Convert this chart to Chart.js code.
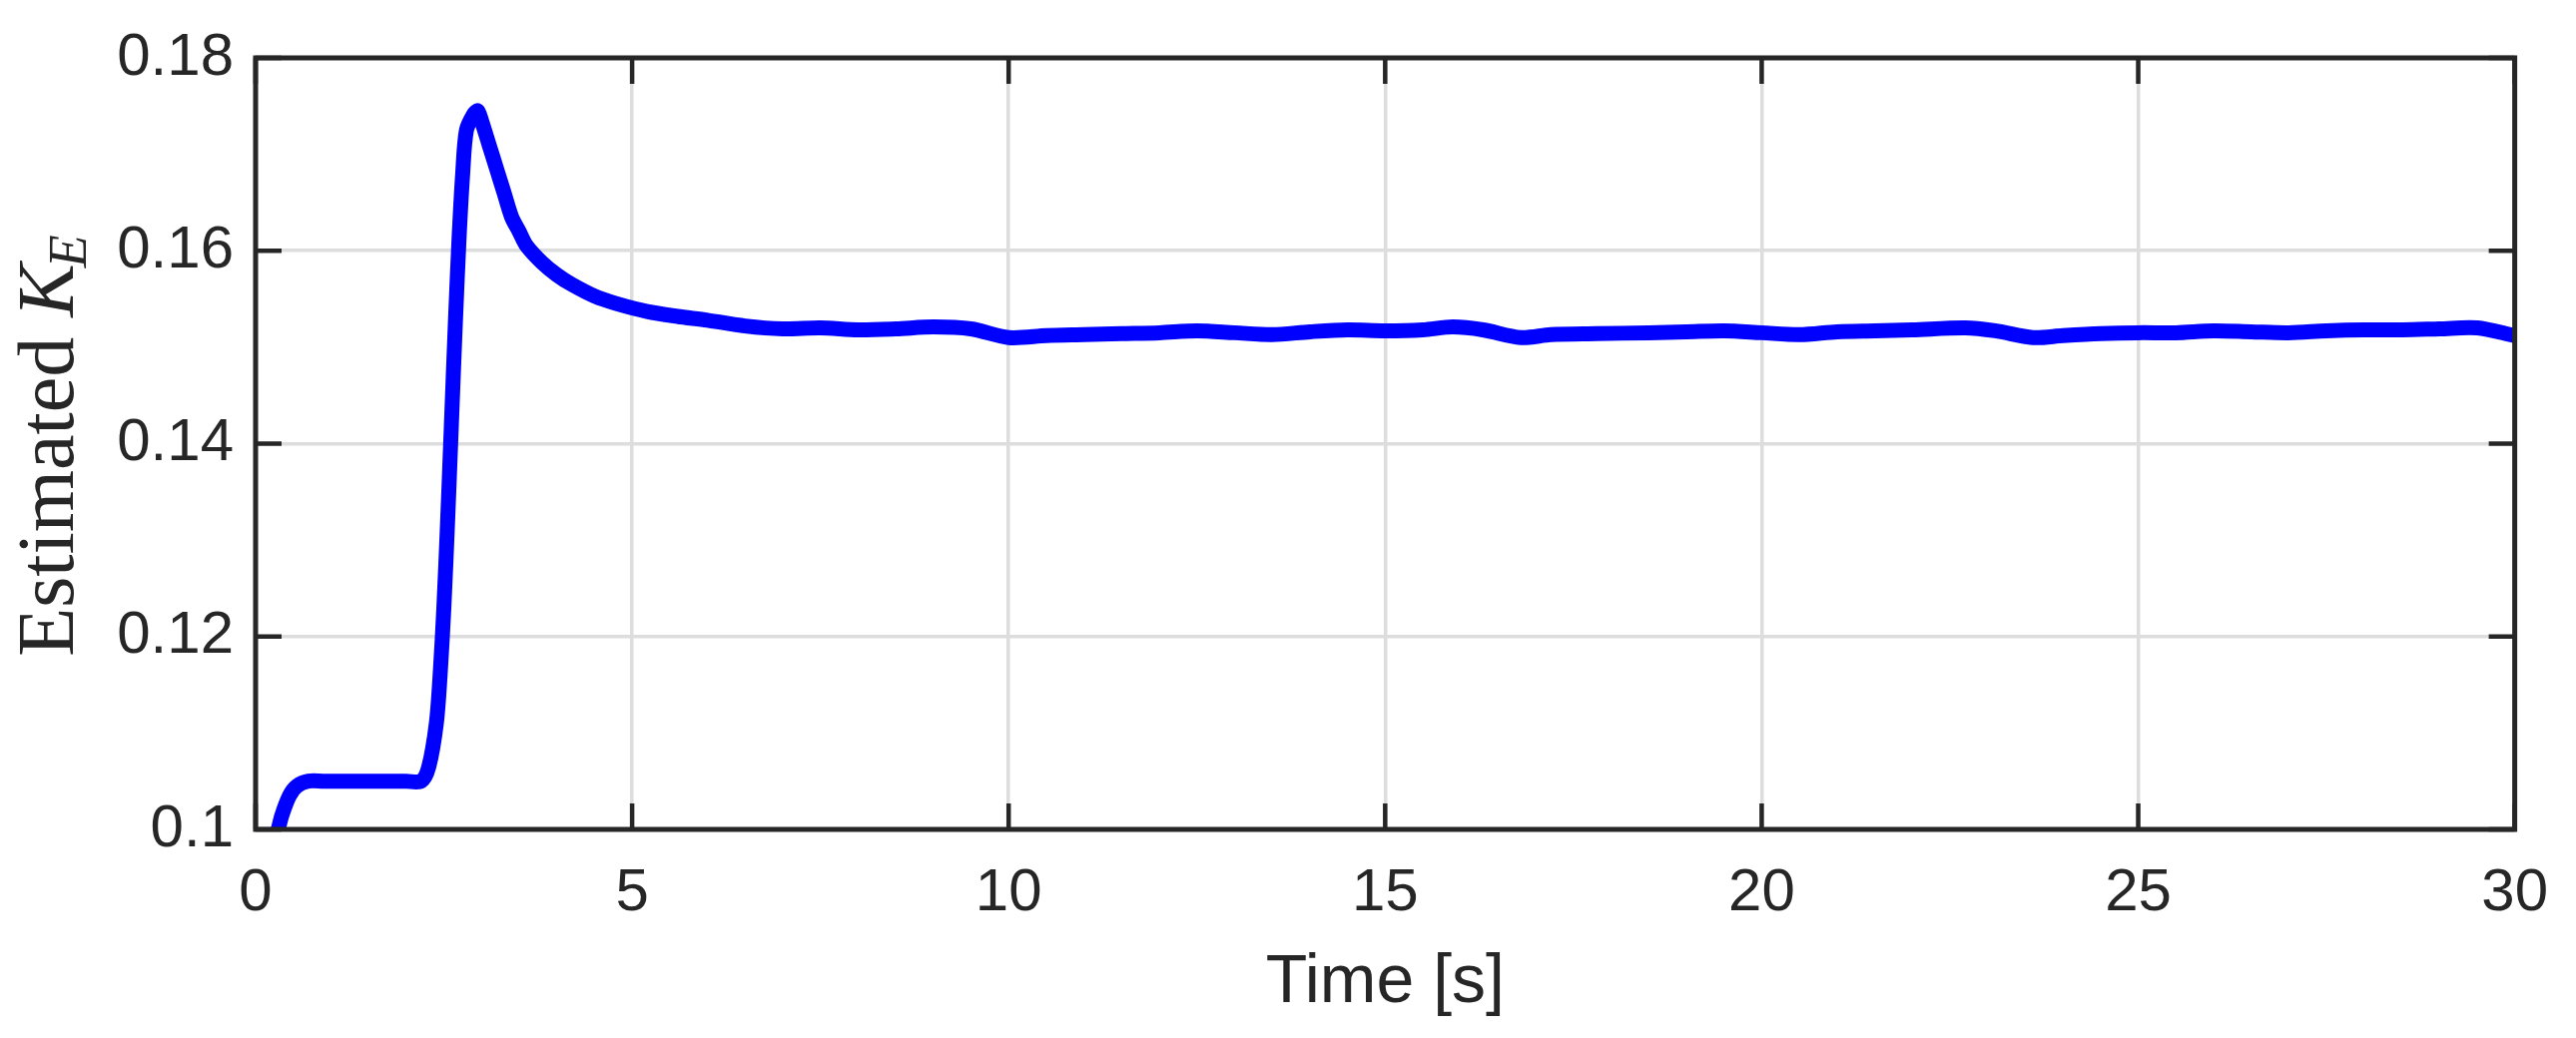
<html>
<head>
<script src="https://cdn.jsdelivr.net/npm/chart.js"></script>
<style>
  body { margin: 0; background: #fff; }
  #wrap { width: 2580px; height: 1040px; }
</style>
</head>
<body>
<div id="wrap"><canvas id="c"></canvas></div>
<script>
const timeS = [0.3, 0.35, 0.45, 0.55, 0.7, 0.9, 1.2, 1.6, 2.0, 2.2, 2.3, 2.4, 2.45, 2.5, 2.55, 2.6, 2.65, 2.7, 2.75, 2.8, 2.9, 2.95, 3.0, 3.1, 3.2, 3.3, 3.4, 3.5, 3.6, 3.8, 4.0, 4.2, 4.5, 4.8, 5.2, 5.6, 6.0, 6.5, 7.0, 7.5, 8.0, 8.5, 9.0, 9.5, 10.0, 10.5, 11.0, 11.5, 12.0, 12.5, 13.0, 13.5, 14.0, 14.5, 15.0, 15.5, 15.9, 16.3, 16.8, 17.2, 17.8, 18.5, 19.0, 19.5, 20.0, 20.5, 21.0, 21.5, 22.0, 22.7, 23.1, 23.6, 24.0, 24.5, 25.0, 25.5, 26.0, 26.5, 27.0, 27.5, 28.0, 28.5, 29.0, 29.5, 30.0];
const estKE = [0.1, 0.1015, 0.1035, 0.1045, 0.105, 0.105, 0.105, 0.105, 0.105, 0.105, 0.1065, 0.111, 0.116, 0.123, 0.132, 0.142, 0.152, 0.161, 0.168, 0.1725, 0.1742, 0.1745, 0.1735, 0.171, 0.1685, 0.166, 0.1635, 0.162, 0.1605, 0.1588, 0.1575, 0.1565, 0.1553, 0.1545, 0.1537, 0.1532, 0.1528, 0.1522, 0.1519, 0.152, 0.1518, 0.1519, 0.1521, 0.1519, 0.151, 0.1512, 0.1513, 0.1514, 0.1515, 0.1517, 0.1515, 0.1513, 0.1516, 0.1518, 0.1517, 0.1518, 0.1521, 0.1518, 0.151, 0.1513, 0.1514, 0.1515, 0.1516, 0.1517, 0.1515, 0.1513, 0.1516, 0.1517, 0.1518, 0.152, 0.1517, 0.151, 0.1512, 0.1514, 0.1515, 0.1515, 0.1517, 0.1516, 0.1515, 0.1517, 0.1518, 0.1518, 0.1519, 0.152, 0.1512];
const xTicks = [0, 5, 10, 15, 20, 25, 30];
const yTicks = [0.1, 0.12, 0.14, 0.16, 0.18];

const tickFont = { family: 'Liberation Sans, Arial, sans-serif', size: 60 };

// box, inner ticks and axis titles, MATLAB style
const frame = {
  id: 'frame',
  afterDraw(chart) {
    const { ctx, chartArea: a, scales } = chart;
    ctx.save();
    ctx.strokeStyle = '#262626';
    ctx.lineWidth = 5;
    ctx.strokeRect(a.left, a.top, a.right - a.left, a.bottom - a.top);
    ctx.lineWidth = 4.5;
    const L = 26;
    xTicks.forEach(v => {
      const x = scales.x.getPixelForValue(v);
      ctx.beginPath();
      ctx.moveTo(x, a.bottom); ctx.lineTo(x, a.bottom - L);
      ctx.moveTo(x, a.top); ctx.lineTo(x, a.top + L);
      ctx.stroke();
    });
    yTicks.forEach(v => {
      const y = scales.y.getPixelForValue(v);
      ctx.beginPath();
      ctx.moveTo(a.left, y); ctx.lineTo(a.left + L, y);
      ctx.moveTo(a.right, y); ctx.lineTo(a.right - L, y);
      ctx.stroke();
    });
    ctx.fillStyle = '#262626';
    ctx.font = '68px Liberation Sans, Arial, sans-serif';
    ctx.textAlign = 'center';
    ctx.textBaseline = 'middle';
    ctx.fillText('Time [s]', (a.left + a.right) / 2, 985);
    // y title
    ctx.translate(46, (a.top + a.bottom) / 2);
    ctx.rotate(-Math.PI / 2);
    const t1 = 'Estimated ';
    ctx.font = '80px Liberation Serif, serif';
    const w1 = ctx.measureText(t1).width;
    ctx.font = 'italic 80px Liberation Serif, serif';
    const w2 = ctx.measureText('K').width;
    ctx.font = 'italic 54px Liberation Serif, serif';
    const w3 = ctx.measureText('E').width;
    let x0 = -(w1 + w2 + w3) / 2;
    ctx.textAlign = 'left';
    ctx.textBaseline = 'alphabetic';
    ctx.font = '80px Liberation Serif, serif';
    ctx.fillText(t1, x0, 27);
    ctx.font = 'italic 80px Liberation Serif, serif';
    ctx.fillText('K', x0 + w1, 27);
    ctx.font = 'italic 54px Liberation Serif, serif';
    ctx.fillText('E', x0 + w1 + w2 - 4, 40);
    ctx.restore();
  }
};

new Chart(document.getElementById('c'), {
  type: 'line',
  data: {
    datasets: [{
      data: timeS.map((t, i) => ({ x: t, y: estKE[i] })),
      borderColor: '#0000ff',
      borderWidth: 15,
      pointRadius: 0,
      tension: 0.3,
      clip: 8
    }]
  },
  options: {
    responsive: true,
    maintainAspectRatio: false,
    animation: false,
    layout: { padding: { top: 52, right: 33, left: 0, bottom: 0 } },
    plugins: { legend: { display: false }, tooltip: { enabled: false } },
    scales: {
      x: {
        type: 'linear', min: 0, max: 30,
        afterBuildTicks: s => { s.ticks = xTicks.map(v => ({ value: v })); },
        afterFit: s => { s.height = 209; },
        ticks: { font: tickFont, color: '#262626', padding: 28, maxRotation: 0 },
        grid: { color: '#dddddd', lineWidth: 3.5, drawTicks: false },
        border: { display: false }
      },
      y: {
        type: 'linear', min: 0.1, max: 0.18,
        afterBuildTicks: s => { s.ticks = yTicks.map(v => ({ value: v })); },
        afterFit: s => { s.width = 256; },
        ticks: { font: tickFont, color: '#262626', padding: 22, callback: v => String(+v.toFixed(2)) },
        grid: { color: '#dddddd', lineWidth: 3.5, drawTicks: false },
        border: { display: false }
      }
    }
  },
  plugins: [frame]
});
</script>
</body>
</html>
